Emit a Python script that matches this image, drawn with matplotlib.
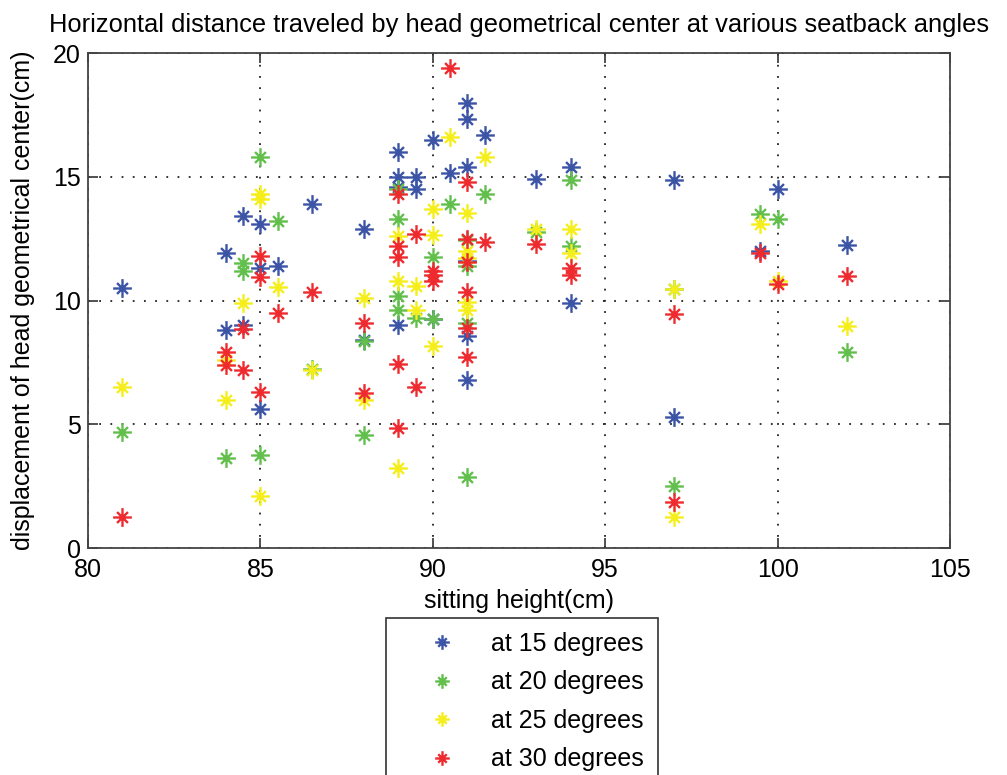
import matplotlib
matplotlib.use("Agg")
import matplotlib.pyplot as plt
from matplotlib.path import Path

plt.rcParams['font.family'] = ['Liberation Sans', 'DejaVu Sans']

# 15 degrees (blue)
x15 = [81, 84, 84, 84.5, 84.5, 85, 85, 85, 85.5, 86.5, 88, 88, 89, 89, 89, 89, 89.5, 89.5,
       90, 90, 90.5, 91, 91, 91, 91, 91, 91, 91.5, 93, 94, 94, 97, 97, 99.5, 100, 102]
y15 = [10.5, 11.9, 8.8, 13.4, 9.0, 13.1, 11.3, 5.6, 11.4, 13.9, 12.9, 8.4, 16.0, 15.0, 14.6, 9.0, 15.0, 14.5,
       16.5, 9.25, 15.15, 18.0, 17.35, 15.4, 11.6, 8.55, 6.8, 16.7, 14.9, 15.4, 9.9, 14.85, 5.3, 12.0, 14.5, 12.25]

# 20 degrees (green)
x20 = [81, 84, 84.5, 84.5, 85, 85, 85.5, 86.5, 88, 88, 89, 89, 89, 89, 89.5, 90, 90,
       90.5, 91, 91, 91, 91, 91.5, 93, 94, 94, 97, 97, 99.5, 100, 102]
y20 = [4.7, 3.65, 11.5, 11.2, 15.8, 3.75, 13.2, 7.25, 8.35, 4.55, 14.5, 13.3, 10.2, 9.6, 9.3, 11.75, 9.25,
       13.9, 12.45, 11.4, 9.1, 2.85, 14.3, 12.75, 14.85, 12.2, 10.45, 2.5, 13.5, 13.3, 7.9]

# 25 degrees (yellow)
x25 = [81, 84, 84, 84.5, 85, 85, 85, 85.5, 86.5, 88, 88, 89, 89, 89, 89.5, 89.5, 90, 90, 90,
       90.5, 91, 91, 91, 91, 91, 91.5, 93, 94, 94, 97, 97, 99.5, 100, 102]
y25 = [6.5, 7.6, 6.0, 9.9, 14.3, 14.1, 2.1, 10.55, 7.2, 10.1, 6.0, 12.6, 10.8, 3.25, 10.6, 9.6, 13.7, 12.65, 8.15,
       16.6, 13.55, 12.0, 11.7, 9.95, 9.6, 15.8, 12.9, 12.9, 11.9, 10.45, 1.25, 13.1, 10.8, 8.95]

# 30 degrees (red)
x30 = [81, 84, 84, 84.5, 84.5, 85, 85, 85, 85.5, 86.5, 88, 88, 89, 89, 89, 89, 89, 89.5, 89.5,
       90, 90, 90, 90.5, 91, 91, 91, 91, 91, 91, 91.5, 93, 94, 94, 97, 97, 99.5, 100, 102]
y30 = [1.25, 7.9, 7.4, 8.85, 7.2, 11.8, 10.95, 6.3, 9.5, 10.35, 9.1, 6.25, 14.3, 12.2, 11.75, 7.45, 4.85, 12.7, 6.5,
       11.2, 11.05, 10.8, 19.4, 14.8, 12.5, 11.55, 10.35, 8.9, 7.7, 12.35, 12.3, 11.3, 11.05, 9.45, 1.85, 11.9, 10.65, 11.0]

labels = ['at 15 degrees', 'at 20 degrees', 'at 25 degrees', 'at 30 degrees']
colors = ['#3b54a6', '#62bf4c', '#f5ee1a', '#ee2a2e']

# MATLAB-like asterisk: long + arms, shorter x arms
d = 0.58
verts = [(-1, 0), (1, 0), (0, -1), (0, 1), (-d, -d), (d, d), (-d, d), (d, -d)]
codes = [Path.MOVETO, Path.LINETO] * 4
asterisk = Path(verts, codes)

fig = plt.figure(figsize=(10.07, 7.75), dpi=100)
ax = fig.add_axes([0.0874, 0.2929, 0.8560, 0.6387])

for xs, ys, lab, c in zip([x15, x20, x25, x30], [y15, y20, y25, y30], labels, colors):
    ax.plot(xs, ys, linestyle='none', marker=asterisk, markersize=13.5,
            markeredgewidth=1.7, color=c, label=lab)

ax.set_xlim(80, 105)
ax.set_ylim(0, 20)
ax.set_xticks([80, 85, 90, 95, 100, 105])
ax.set_yticks([0, 5, 10, 15, 20])
ax.grid(True, linestyle=(0, (1, 5.2)), color='#222222', linewidth=1.3)
ax.tick_params(direction='in', length=7.5, width=1.2, labelsize=18, top=True, right=True, pad=5,
               colors='#333333', labelcolor='black')
ax.tick_params(axis='x', pad=7.5)
for s in ax.spines.values():
    s.set_color('#444444')
    s.set_linewidth(1.3)

ax.set_title('Horizontal distance traveled by head geometrical center at various seatback angles',
             fontsize=18.4, pad=15)
ax.set_xlabel('sitting height(cm)', fontsize=18, labelpad=5)
ax.set_ylabel('displacement of head geometrical center(cm)', fontsize=18, labelpad=13)

leg = fig.legend(loc='upper left', bbox_to_anchor=(386 / 1007, 1 - 618 / 775),
                 fontsize=18, frameon=True, fancybox=False, edgecolor='black',
                 markerscale=0.78, handlelength=3.4, handletextpad=0.25, labelspacing=0.58,
                 borderpad=0.55, borderaxespad=0)
leg.get_frame().set_linewidth(1.2)

fig.savefig('out.png', dpi=100)
